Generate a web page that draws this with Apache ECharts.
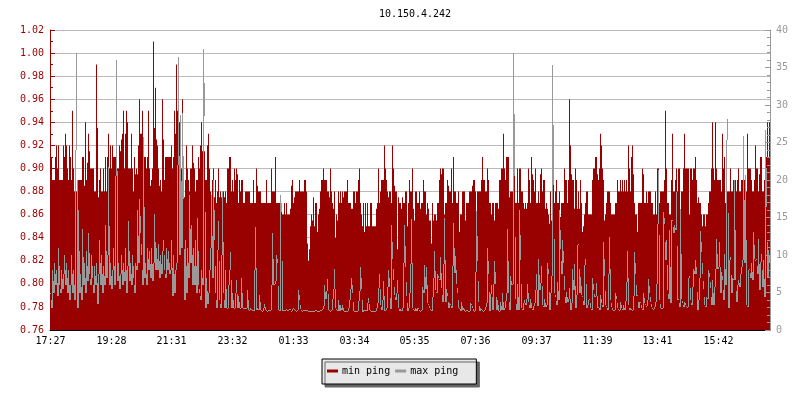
<!DOCTYPE html>
<html lang="en">
<head>
  <meta charset="UTF-8">
  <title>10.150.4.242</title>
  <script src="https://cdn.jsdelivr.net/npm/echarts@6/dist/echarts.min.js"></script>
</head>
<body style="margin: 0; background: #fff">
  <div id="main" style="width: 800px;height:400px;"></div>
  <script type="text/javascript">
    const titleText = '10.150.4.242'
    const tickLabels = ['17:27', '19:28', '21:31', '23:32', '01:33', '03:34', '05:35', '07:36', '09:37', '11:39', '13:41', '15:42']
    const tickIndex = [0, 61, 121, 182, 243, 304, 364, 425, 486, 547, 607, 668]

    // min ping, in hundredths
    const minPing = [
      90,91,89,89,89,91,92,90,92,89,89,89,89,92,91,93,92,90,89,92,
      91,89,95,90,88,88,88,89,89,89,89,89,91,91,88.5,94,89,90.5,93,91.5,
      90,90,90,90,88,88,99,93.5,87.5,89,90,88,88,90,88,91,88,91,93,90,
      92,90,92,91,91,91,90,90,90,92,91.5,92.5,93,95,90,93,95,94,90,90,
      90,93,90,88,91,89.5,90,89.5,92,96,93,93,95,90.5,91,91,90,91,95,90,
      88.5,89,90,101,93.5,97,92.5,92,90,88.5,89,88,96,92.5,89,91,91,91,91,91,
      91,92,90,91,95,93,99,95,94,94,91,90,96,89,87.5,89,92,90,89,88,
      90,90,92,90.5,90,88,89,89,91,90,92,94,91.5,92,91.5,89,89,92,93,90,
      88,87,89,90,87.5,89,87,88,90,87.5,88,87.5,87,88,87.5,88,87,90,90,91,
      91,88,89,88,90,89,90,89.5,87,89,88,89,89,87,87,88,88,88,88,88,
      87,87,87,89,87,87,90,88.5,88,88,88,87,87,87,87,87,89,87,87,87,
      87,90,88,88,88,91,87,87,87,87,87,87,86,86,87,86,87,86,86,86,
      86.5,88.5,89,87,87.5,88,88,88,88,89,88,88,88,88,89,89,88,83.5,82,83,
      85,86,85.5,87.5,85,87,87,84.5,86,86.5,88,89,89,90,89,89,89,88,88,87.5,
      90,88,87,86.5,88,84,86,85.5,88,87,88,87,88,87.5,88,88,88,89,87,87,
      87,86.5,86.5,88,88,87,88,88,89,90,87,86,85,87,84.5,87,85,87,85,85,
      87,87,85,85,85,85,86.5,87,90,87,88,89,89,89,92,90,89,88,87.5,88,
      88,87,92,90,88.5,88,88,83,87.5,87,87,86.5,87.5,87,87,88,88,85,87,89,
      88,88,90,86.5,85.5,88,88,87,87,88,86.5,87,87,89,88,88,86,87,86.5,85.5,
      85.5,83.5,87,85.5,86,86,85.5,87,87,89,90,89.5,90,90,86,87,87,89,88.5,88,
      88,90,87,91,88,88,87,87,88,84.5,86,86,88,88,88,85.5,87,87,87,88,
      88,88,88.5,89,89,88,86,88,88,88,88,89,91,89,89,88,88,90,89,87,
      87,86,87,87,85.5,87,87,87,86.5,89,89,90,90,93,90,89,91,91,91,87.5,
      88,88,88,87,90,87,87,90,87,90,90,88,88,87,86.5,87,86.5,87,90,89,
      87,91,89.5,89,88,90,87,87,88,87,89.5,90,88,89,89,86.5,87,86.5,86,85.2,
      88,85.5,87,89,87,88,89,87,87,88,85.8,87,87,87,90,89,89,87,89,96,
      92,89.5,89,89,86.5,90,89,86.5,88,86.5,89,87,84.5,85,86,87,88,88,86,86,
      86,86,89,90,90,91,91,89.5,89,90,93,92,90,89,85.5,86,87,88,88,88,
      87,86,86,86,86,87,87,89,88,88,89,88,89,88,89,88,89,88,92,90,
      88,91,92,89.5,87,86,86,84.5,87,87,87,87,90,89.5,87,87,88,87,88,88,
      88,87,87,86,86,88,86,90,90,87,88,88,88,88,89,95,90,87,87,86,
      86,89,93,88,88,89,90,88,90,90,85.5,88,88,90,93,90,90,90,90,86,
      90,90,89,90,90,91,89,87,87.5,87,87,86,85,86,86,85,86,86,87,88,
      88,90,94,90,89,94,90,89,89,89,89,88,93,90,91,87,90,88,88,88,
      90,88,88,89,88,89,88,89,90,88,88,89,89,88,89,89,88,93,90,90,
      90,89,88,88,89,92,90,90,88,89.5,91,91,88,88,89,89,91,94,91,94
    ]

    // max ping
    const maxPing = [
      5,3,8,5,9,6,8,4.5,11,6,5,8,5.5,7.5,10,6,9,5,8,4,
      6,10,5,8,4,24,37,3,16,5,7.5,4,13.5,6,9,5,10.5,6.5,13,7.5,
      6,10,7,5,8.5,6,9,3.5,7.5,12,6,10,5,8.5,6,14,7,10,21.8,6,
      9,5.5,8,11,6,20.5,36,6.5,9,5.5,7.5,10,6,9,6.5,11,5,8.5,14.5,6.5,
      9,6,10,7,5,9,8,16,9,17.5,13,10,6,25.8,7,9,6,11,8,10.5,
      7,11,6.5,9,15.5,8,11,8,11.5,7,10,7.5,10.5,12,8,7,11,8,10.5,7.5,
      8,12,4.5,10,5,8,9,22,36.4,10,28.7,11,28.9,17.5,4,12,5,11,7,18,
      9,14,6,11,6,12,5,15,6,5,4,8,6,37.5,28.5,3,7,3.5,5,8,
      11,18,7,20,12,5,3,10.7,14.5,4,3,10,18.6,5,3,8,3,3,6,8,
      10.4,3,5,3,3,5,6.7,3,4.6,3,2.9,7,3,3,2.9,3,3,5.3,2.7,2.7,
      3,2.7,2.7,2.6,8,13.8,2.7,3,2.7,4.7,2.7,2.6,2.6,3,3.5,2.7,2.6,2.6,2.7,2.7,
      2.7,6,13,6,6.2,6.5,10,9,2.7,2.6,18,15.8,2.5,2.7,2.7,2.7,2.8,2.6,2.7,2.8,
      2.7,2.5,2.8,2.9,2.7,2.6,2.6,2.7,5.4,4,2.8,2.6,2.6,2.7,2.6,2.7,2.7,2.6,2.6,2.6,
      2.6,2.6,2.6,2.6,2.6,2.7,2.6,2.6,2.6,2.6,2.7,2.7,2.8,3.2,6,4.2,5.2,6.8,2.7,2.6,
      2.6,2.7,4.1,5.5,8.1,2.9,2.7,2.6,4,2.6,3.3,2.7,3.3,2.5,2.6,2.5,2.6,2.6,3,4,
      5.5,7,4.9,2.6,2.6,2.6,2.6,2.6,3.9,5.2,8.4,5.5,2.4,2.7,2.6,2.7,2.6,3.6,4.3,2.7,
      2.6,2.5,2.5,2.6,2.6,2.6,3,3.6,5.6,7.5,3.4,2.7,4,6.5,2.6,2.7,2.9,5.7,8,5.8,
      2.8,14,9.5,6.7,4.7,4,4.9,6.7,3,2.6,2.8,2.6,3,9,14,8.4,4.5,2.6,3,5,
      8.8,14.8,3,2.7,2.6,3,2.6,3,2.8,2.6,2.6,2.7,5.7,5,8.7,5.5,8.4,3.6,3.4,3,
      2.7,2.6,4.4,7,10.5,5.3,4.9,7.5,6.9,6.7,9.7,5.6,3.8,8.8,15,3.8,5.5,4.5,3,3.6,
      3.3,3,8.5,14.3,7.6,9.9,6.2,5,2.9,3,2.6,3.8,2.7,3,2.6,2.6,2.7,2.6,2.6,2.6,
      3.6,3.3,3,2.6,2.6,7.7,15.9,9.2,3.8,2.6,3,2.7,2.6,2.6,2.7,3.1,3.6,11,7.5,2.6,
      4.8,6,2.7,6.2,9.2,6.2,2.7,4,2.6,2.6,3.8,2.7,4.9,2.7,3,3.9,4.9,13.5,4.9,2.7,
      7.2,6,6.2,37,20.5,4.2,2.7,6.2,2.7,16,9.3,3,2.7,3.6,4,3.3,4.2,6.2,3.8,3,
      4.2,3,2.7,3.2,3.6,5.3,7.5,3.2,9.5,5.3,6.3,8.5,3.3,3.1,4.2,3.1,3.3,8.9,7.5,2.7,
      4.9,7.2,35.3,19.3,4.9,4.4,3.3,6.4,4,16,10.8,7.5,12,9,5.3,3.6,5.1,3.8,4.2,5.6,
      2.7,3.6,8.1,5.3,8.8,2.9,4.7,11.3,11.5,4.9,7.1,4.7,4.4,3.3,8.7,9.5,2.9,3.3,4,4.2,
      2.9,2.7,7,5.3,4.4,4.5,6.3,2.9,3.1,2.7,4.7,3.6,3.1,11.8,7.2,3.3,3.1,2.7,7.5,12.4,
      4,3.1,2.7,2.7,2.7,4.9,4.2,2.9,2.7,2.7,3.8,2.9,2.7,3.3,2.7,3.9,6.4,10.5,3.3,2.7,
      2.9,2.7,2.7,4.5,10.4,7.5,4.5,4.7,2.9,3.8,3.7,2.9,2.7,4.9,3.6,3.3,3.2,4,6.8,4.9,
      3.8,3.1,2.9,2.8,3.1,3.8,6.2,14.2,21.3,4,2.9,2.9,2.9,15.7,14.2,9.3,12,5.3,4.2,13.3,
      3.6,14.7,14.7,12.9,14,13.3,18.4,4,4.2,3.1,16.2,4.2,3.6,3.1,3.8,3.4,3.1,3.1,6.9,7.2,
      4,3.3,5.8,8.2,7.5,9.3,7.5,2.7,4,6.9,13.2,10.4,7.5,5.5,3.3,3.1,4.4,4.2,8,7.1,
      5.6,3.3,6.7,3.3,5.8,8.2,12.2,8.2,8.4,11.8,4.9,7.8,6.7,4,10.2,6,25.3,28.2,2.9,9.3,
      9.8,4.9,6.9,6.7,20,6.7,3.8,6,6.7,5.8,7.5,8.4,9.3,25.9,8.9,20.7,3.3,3.1,8,8.2,
      6.9,8.9,6.7,13.1,9.5,9.3,9.5,7.5,12.2,5.3,9.1,10.2,5.8,9.3,4.4,26.7,16.4,7.1,10.7,9.1
    ]

    const monoFont = '"DejaVu Sans Mono", monospace'
    const categories = minPing.map((_, i) => {
      const j = tickIndex.indexOf(i)
      return j >= 0 ? tickLabels[j] : ''
    })
    const onlyLabelled = (index, value) => value !== ''

    // line series drops segments under 2px, so draw each 1px column of the line ourselves.
    // rising column gets the whole step, falling one only half, that keeps spikes thin on top
    function maxPingColumn(params, api) {
      const i = params.dataIndex
      const v = api.value(1)
      const prev = i > 0 ? maxPing[i - 1] : v
      const high = v >= prev ? v : (v + prev) / 2
      const low = v >= prev ? prev : v
      const top = api.coord([i, high])
      const bottom = api.coord([i, low])
      const y = Math.round(top[1])
      return {
        type: 'rect',
        shape: {
          x: Math.floor(top[0]),
          y: y,
          width: 1,
          height: Math.max(Math.round(bottom[1]) - y, 1)
        },
        style: { fill: '#999999' }
      }
    }

    var myChart = echarts.init(document.getElementById('main'))
    myChart.setOption({
      animation: false,
      textStyle: { fontFamily: monoFont, fontSize: 10 },
      title: {
        text: titleText,
        left: 410,
        top: 4,
        textAlign: 'center',
        textStyle: { fontFamily: monoFont, fontSize: 10, fontWeight: 'normal', color: '#000' }
      },
      legend: {
        left: 322,
        top: 359,
        padding: [7, 18, 8, 5],
        itemGap: 5,
        itemWidth: 11,
        itemHeight: 3,
        backgroundColor: '#e8e8e8',
        borderColor: '#000',
        borderWidth: 1,
        shadowColor: '#666',
        shadowBlur: 0,
        shadowOffsetX: 3,
        shadowOffsetY: 3,
        textStyle: { fontFamily: monoFont, fontSize: 10, color: '#000', padding: [0, 0, 0, -1] },
        data: [{ name: 'min ping', icon: 'rect' }, { name: 'max ping', icon: 'rect' }]
      },
      grid: { left: 50, right: 30, top: 30, bottom: 70 },
      xAxis: {
        type: 'category',
        data: categories,
        z: 5,
        axisLine: { lineStyle: { color: '#000' } },
        axisTick: { inside: true, length: 5, alignWithLabel: true, interval: onlyLabelled, lineStyle: { color: '#000' } },
        axisLabel: { interval: onlyLabelled, color: '#000', fontFamily: monoFont, fontSize: 10, margin: 6 }
      },
      yAxis: [{
        type: 'value',
        min: 0.76,
        max: 1.02,
        interval: 0.02,
        axisLine: { show: true, lineStyle: { color: '#990000' } },
        axisTick: { show: true, inside: true, length: 5, lineStyle: { color: '#990000' } },
        minorTick: { show: true, splitNumber: 2, length: 3, lineStyle: { color: '#990000' } },
        splitLine: { show: true, lineStyle: { color: '#bbb', width: 1 } },
        axisLabel: {
          color: '#990000',
          fontFamily: monoFont,
          fontSize: 10,
          margin: 6,
          formatter: v => v.toFixed(2)
        }
      }, {
        type: 'value',
        min: 0,
        max: 40,
        interval: 5,
        position: 'right',
        z: 5,
        axisLine: { show: true, lineStyle: { color: '#999' } },
        axisTick: { show: true, inside: true, length: 5, lineStyle: { color: '#999' } },
        minorTick: { show: true, splitNumber: 5, length: 3, lineStyle: { color: '#999' } },
        splitLine: { show: false },
        axisLabel: { color: '#999', fontFamily: monoFont, fontSize: 10, margin: 6 }
      }],
      series: [{
        name: 'min ping',
        type: 'bar',
        yAxisIndex: 0,
        barWidth: 1,
        silent: true,
        z: 2,
        itemStyle: { color: '#990000' },
        data: minPing.map(v => v / 100)
      }, {
        name: 'max ping',
        type: 'custom',
        yAxisIndex: 1,
        silent: true,
        z: 3,
        renderItem: maxPingColumn,
        encode: { x: 0, y: 1 },
        itemStyle: { color: '#999999' },
        data: maxPing.map((v, i) => [i, v])
      }]
    })
  </script>
</body>
</html>
